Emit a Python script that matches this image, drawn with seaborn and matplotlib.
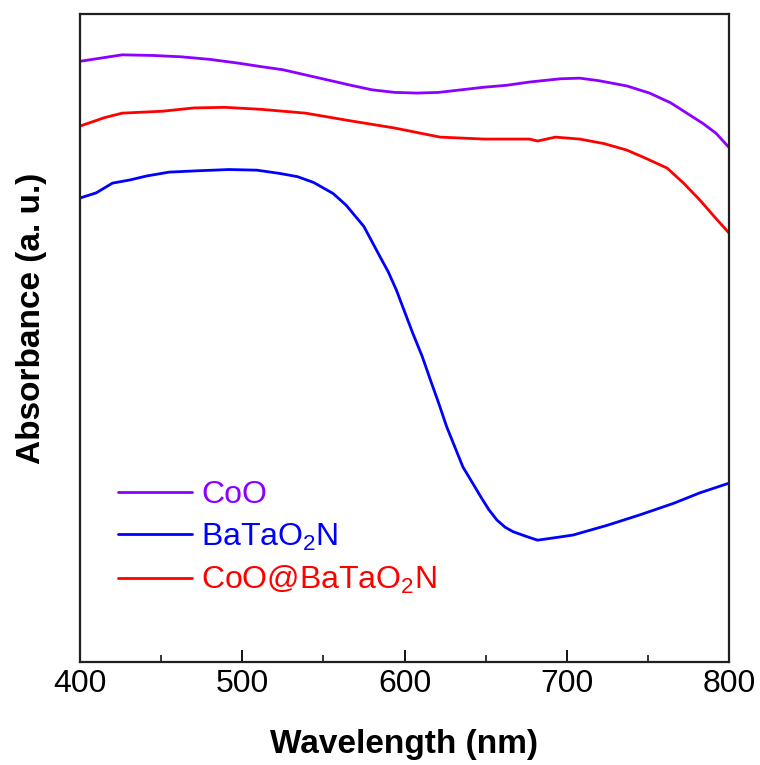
import matplotlib
matplotlib.use("Agg")
import matplotlib.pyplot as plt
from matplotlib.ticker import MultipleLocator
import seaborn as sns
import pandas as pd

# values (absorbance in arbitrary units, 0..1 of the frame)
coo_wl = [400, 413, 426, 445, 462, 480, 498, 511, 525, 539, 553, 567, 580, 594,
          608, 621, 635, 649, 663, 677, 696, 708, 720, 737, 751, 764, 774, 784,
          792, 800]
coo_abs = [0.927, 0.932, 0.937, 0.936, 0.934, 0.930, 0.924, 0.919, 0.914, 0.906,
           0.898, 0.890, 0.883, 0.879, 0.878, 0.879, 0.883, 0.887, 0.890, 0.895,
           0.900, 0.901, 0.897, 0.889, 0.878, 0.863, 0.847, 0.831, 0.816, 0.794]

bto_wl = [400, 410, 420, 431, 441, 455, 472, 492, 509, 523, 534, 544, 556, 564,
          575, 585, 590, 595, 605, 611, 616, 621, 626, 631, 636, 642, 647, 652,
          657, 662, 667, 676, 682, 696, 704, 725, 745, 766, 782, 800]
bto_abs = [0.716, 0.724, 0.739, 0.744, 0.750, 0.756, 0.758, 0.760, 0.759, 0.754,
           0.749, 0.740, 0.723, 0.705, 0.672, 0.625, 0.602, 0.574, 0.508, 0.471,
           0.435, 0.400, 0.363, 0.332, 0.301, 0.276, 0.255, 0.235, 0.219, 0.208,
           0.201, 0.193, 0.188, 0.193, 0.196, 0.211, 0.227, 0.245, 0.261, 0.276]

mix_wl = [400, 415, 426, 451, 470, 489, 511, 539, 567, 594, 622, 649, 677, 682,
          693, 708, 723, 737, 749, 762, 772, 782, 790, 800]
mix_abs = [0.827, 0.840, 0.847, 0.850, 0.855, 0.856, 0.853, 0.847, 0.835, 0.824,
           0.810, 0.807, 0.807, 0.804, 0.810, 0.807, 0.800, 0.790, 0.777, 0.762,
           0.739, 0.713, 0.690, 0.662]

names = ["CoO", r"BaTaO$_2$N", r"CoO@BaTaO$_2$N"]
colors = ["#8b00ff", "#0000ff", "#ff0000"]

frames = []
for name, wl, ab in zip(names, [coo_wl, bto_wl, mix_wl], [coo_abs, bto_abs, mix_abs]):
    frames.append(pd.DataFrame({"wl": wl, "abs": ab, "sample": name}))
df = pd.concat(frames, ignore_index=True)

sns.set_style("ticks")
plt.rcParams["font.family"] = ["Liberation Sans", "DejaVu Sans"]
plt.rcParams["mathtext.fontset"] = "custom"
plt.rcParams["mathtext.rm"] = "Liberation Sans"
plt.rcParams["mathtext.it"] = "Liberation Sans"
plt.rcParams["text.color"] = "black"
plt.rcParams["axes.labelcolor"] = "black"

fig = plt.figure(figsize=(7.6, 7.65), dpi=100)
ax = fig.add_axes([80 / 760, 103 / 765, 649 / 760, 648 / 765])

sns.lineplot(data=df, x="wl", y="abs", hue="sample", palette=colors,
             hue_order=names, sort=False, linewidth=2, ax=ax)

ax.set_xlim(400, 800)
ax.set_ylim(0, 1)
ax.xaxis.set_major_locator(MultipleLocator(100))
ax.xaxis.set_minor_locator(MultipleLocator(50))
ax.set_yticks([])
ax.tick_params(axis="x", which="major", direction="in", length=9, width=1.3,
               labelsize=23, pad=5, colors="black")
ax.tick_params(axis="x", which="minor", direction="in", length=5, width=1.3)
for s in ax.spines.values():
    s.set_linewidth(1.6)
    s.set_color("#202020")

ax.set_xlabel("Wavelength (nm)", fontsize=24, fontweight="bold", labelpad=22)
ax.set_ylabel("Absorbance (a. u.)", fontsize=24, fontweight="bold")
ax.yaxis.set_label_coords(-0.051, 0.531)

handles, labels = ax.get_legend_handles_labels()
ax.legend(handles, labels, loc="upper left", bbox_to_anchor=(0.0586, 0.281),
          frameon=False, fontsize=23, labelcolor="linecolor", handlelength=2.3,
          handletextpad=0.3, labelspacing=0.36, borderpad=0, borderaxespad=0)

fig.savefig("out.png", dpi=100)
